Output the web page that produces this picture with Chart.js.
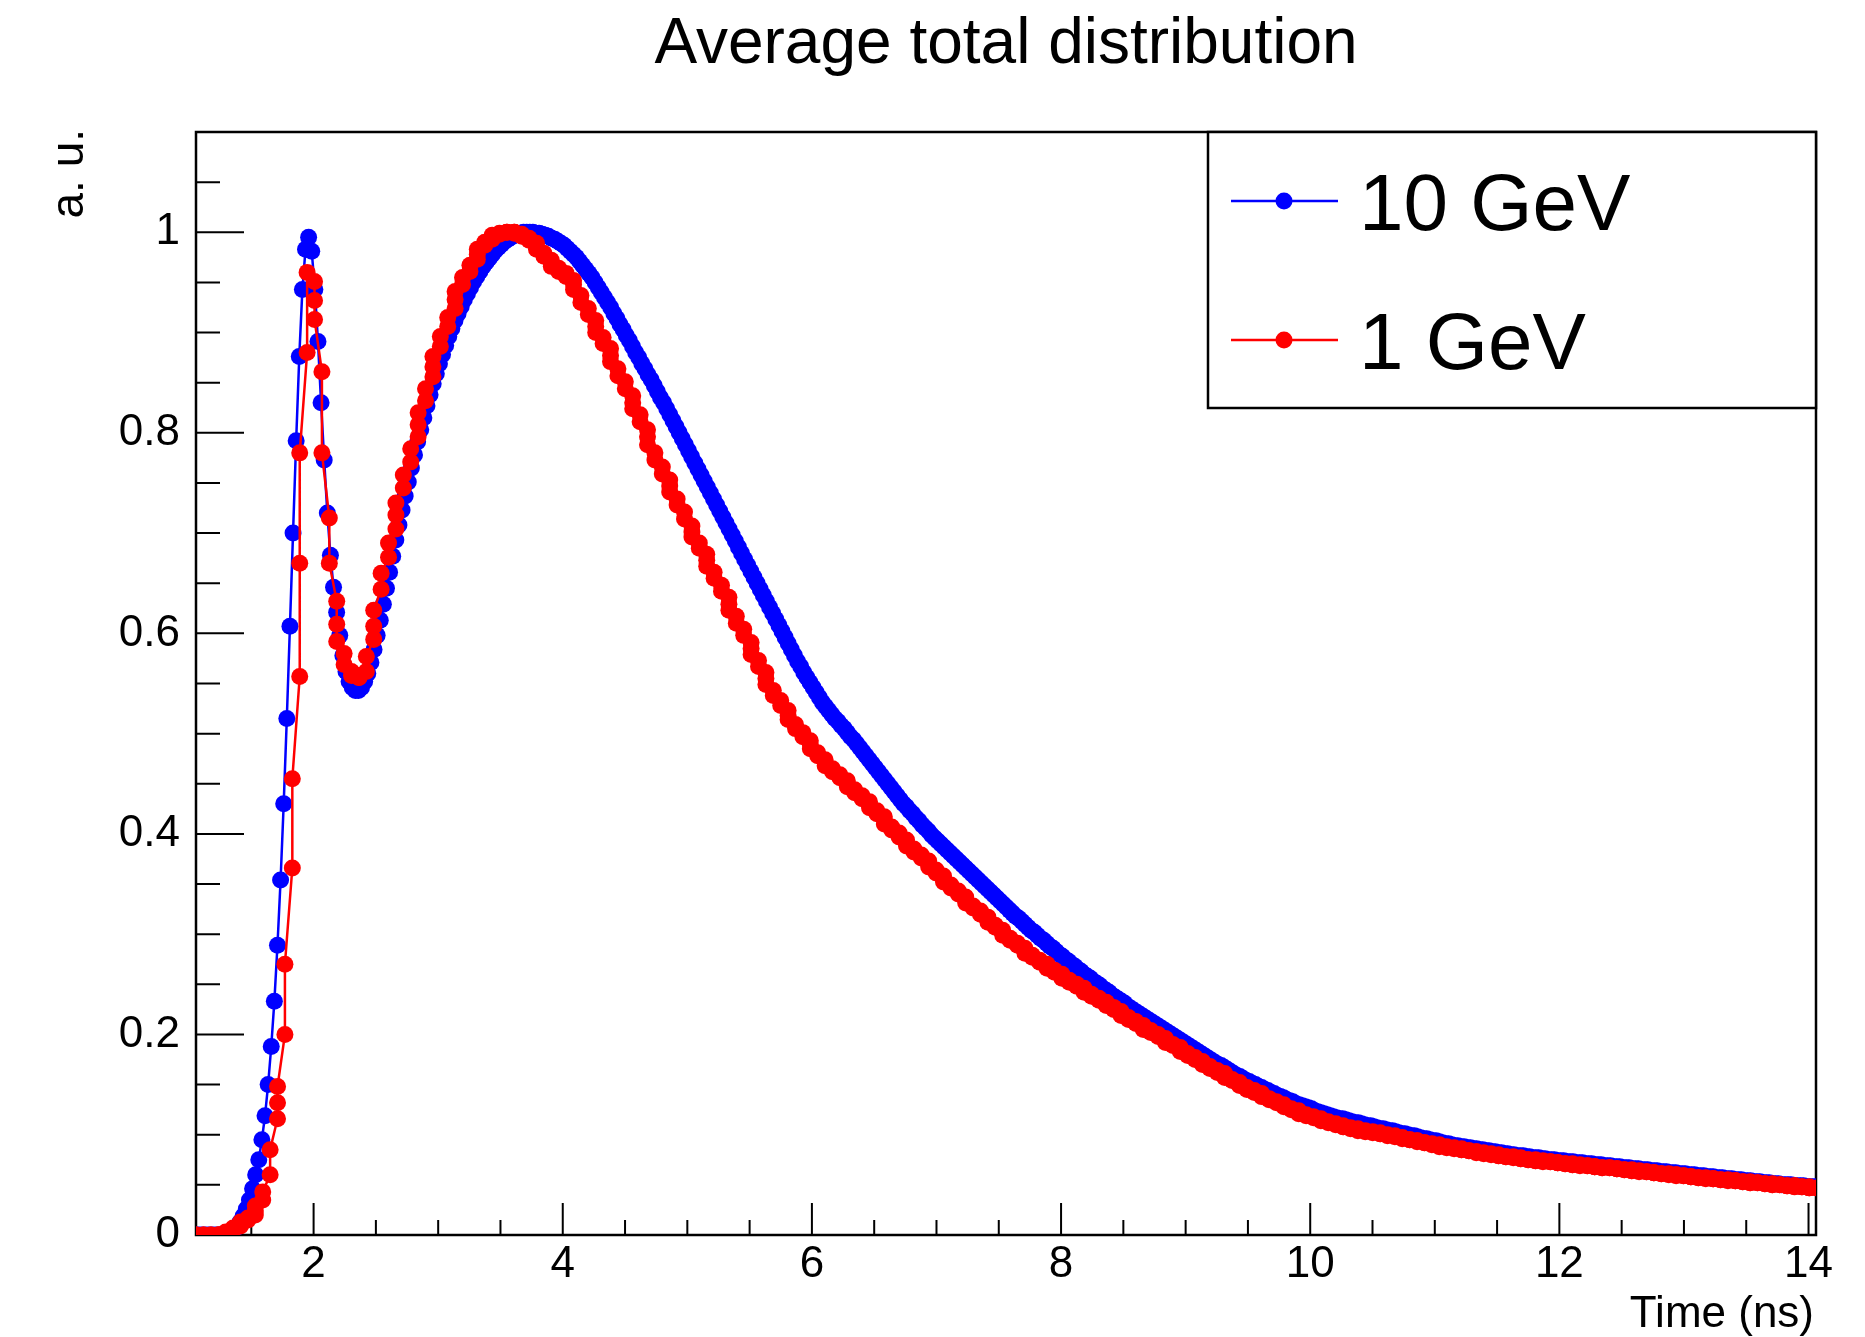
<!DOCTYPE html>
<html>
<head>
<meta charset="utf-8">
<title>Average total distribution</title>
<script src="https://cdn.jsdelivr.net/npm/chart.js@4.4.0/dist/chart.umd.min.js"></script>
<style>
  html, body { margin: 0; padding: 0; background: #fff; }
  canvas { display: block; }
</style>
</head>
<body>
<canvas id="chart" width="1865" height="1337"></canvas>
<script>
const chartTitle = "Average total distribution";
const xTitle = "Time (ns)";
const yTitle = "a. u.";
const seriesLabels = ["10 GeV", "1 GeV"];
const seriesColors = ["#0000ff", "#ff0000"];

const xTickValues = [2, 4, 6, 8, 10, 12, 14];
const xTickLabels = ["2", "4", "6", "8", "10", "12", "14"];
const yTickValues = [0, 0.2, 0.4, 0.6, 0.8, 1];
const yTickLabels = ["0", "0.2", "0.4", "0.6", "0.8", "1"];

// samples every 25 ps starting at 1.06 ns
const timeStart = 1.06;
const timeStep = 0.025;
// the 1 GeV graph keeps its times on a coarser grid, so its points bunch up
const oneGeVGridStart = 1.057;
const oneGeVGridStep = 0.0594;

const tenGeV = [
  0,0,0,0,0,0,0,0,0,0,
  0.001,0.003,0.005,0.008,0.013,0.019,0.026,0.035,0.046,0.060,
  0.075,0.095,0.119,0.150,0.188,0.233,0.289,0.354,0.430,0.515,
  0.607,0.700,0.792,0.876,0.943,0.983,0.995,0.981,0.943,0.891,
  0.830,0.773,0.720,0.678,0.646,0.621,0.598,0.578,0.562,0.552,
  0.546,0.543,0.543,0.546,0.552,0.560,0.571,0.584,0.598,0.613,
  0.629,0.645,0.661,0.677,0.693,0.708,0.723,0.737,0.751,0.765,
  0.778,0.791,0.803,0.815,0.827,0.838,0.849,0.859,0.869,0.878,
  0.887,0.896,0.904,0.912,0.919,0.926,0.933,0.939,0.945,0.951,
  0.956,0.961,0.966,0.970,0.974,0.978,0.982,0.985,0.988,0.991,
  0.993,0.995,0.997,0.998,0.999,1.000,1.000,1.000,1.000,0.999,
  0.999,0.998,0.997,0.996,0.994,0.993,0.991,0.989,0.987,0.984,
  0.981,0.978,0.975,0.971,0.967,0.963,0.959,0.955,0.950,0.945,
  0.940,0.935,0.930,0.925,0.919,0.914,0.908,0.903,0.897,0.892,
  0.886,0.880,0.875,0.869,0.864,0.858,0.853,0.847,0.841,0.835,
  0.830,0.824,0.818,0.812,0.806,0.800,0.794,0.788,0.782,0.776,
  0.770,0.764,0.758,0.752,0.746,0.740,0.734,0.728,0.722,0.716,
  0.710,0.704,0.698,0.692,0.686,0.680,0.674,0.668,0.662,0.656,
  0.650,0.644,0.638,0.632,0.626,0.620,0.614,0.608,0.602,0.596,
  0.590,0.584,0.578,0.572,0.567,0.561,0.556,0.551,0.546,0.541,
  0.536,0.531,0.527,0.523,0.519,0.515,0.512,0.508,0.505,0.501,
  0.497,0.494,0.490,0.486,0.482,0.478,0.474,0.470,0.466,0.462,
  0.458,0.454,0.450,0.446,0.442,0.438,0.434,0.430,0.427,0.423,
  0.420,0.416,0.413,0.409,0.406,0.403,0.399,0.396,0.393,0.390,
  0.387,0.384,0.381,0.378,0.375,0.372,0.369,0.366,0.363,0.360,
  0.357,0.354,0.351,0.348,0.345,0.342,0.339,0.336,0.333,0.330,
  0.327,0.324,0.321,0.318,0.316,0.313,0.310,0.307,0.304,0.302,
  0.299,0.296,0.294,0.291,0.288,0.286,0.283,0.280,0.278,0.275,
  0.273,0.270,0.268,0.265,0.263,0.260,0.258,0.256,0.253,0.251,
  0.249,0.246,0.244,0.242,0.239,0.237,0.235,0.233,0.231,0.228,
  0.226,0.224,0.222,0.220,0.218,0.216,0.214,0.212,0.210,0.208,
  0.206,0.204,0.202,0.200,0.198,0.196,0.194,0.192,0.190,0.188,
  0.186,0.184,0.182,0.180,0.178,0.176,0.174,0.172,0.170,0.169,
  0.167,0.165,0.163,0.161,0.159,0.158,0.156,0.154,0.153,0.151,
  0.150,0.148,0.147,0.145,0.144,0.142,0.141,0.139,0.138,0.137,
  0.135,0.134,0.133,0.131,0.130,0.129,0.128,0.127,0.126,0.124,
  0.123,0.122,0.121,0.120,0.119,0.118,0.117,0.116,0.116,0.115,
  0.114,0.113,0.112,0.112,0.111,0.110,0.109,0.109,0.108,0.107,
  0.106,0.106,0.105,0.104,0.104,0.103,0.102,0.101,0.101,0.100,
  0.099,0.099,0.098,0.097,0.096,0.096,0.095,0.094,0.094,0.093,
  0.092,0.091,0.091,0.090,0.089,0.089,0.088,0.088,0.087,0.087,
  0.086,0.086,0.085,0.085,0.084,0.084,0.083,0.083,0.082,0.082,
  0.081,0.081,0.080,0.080,0.079,0.079,0.079,0.078,0.078,0.077,
  0.077,0.077,0.076,0.076,0.075,0.075,0.075,0.074,0.074,0.074,
  0.073,0.073,0.073,0.072,0.072,0.072,0.071,0.071,0.071,0.070,
  0.070,0.070,0.069,0.069,0.069,0.068,0.068,0.068,0.067,0.067,
  0.067,0.066,0.066,0.066,0.065,0.065,0.065,0.064,0.064,0.064,
  0.063,0.063,0.063,0.062,0.062,0.062,0.061,0.061,0.061,0.060,
  0.060,0.060,0.059,0.059,0.059,0.058,0.058,0.058,0.057,0.057,
  0.057,0.056,0.056,0.056,0.055,0.055,0.055,0.054,0.054,0.054,
  0.053,0.053,0.053,0.052,0.052,0.052,0.051,0.051,0.051,0.050,
  0.050,0.050,0.050,0.049,0.049,0.049,0.049,0.048,0.048,0.048,
  0.048
];

const oneGeV = [
  0,0,0,0,0,0,0,0,0,0.001,
  0.003,0.005,0.007,0.009,0.011,0.013,0.015,0.017,0.020,0.024,
  0.029,0.035,0.043,0.060,0.085,0.116,0.132,0.148,0.200,0.270,
  0.366,0.455,0.557,0.670,0.780,0.880,0.960,0.951,0.932,0.913,
  0.861,0.780,0.715,0.670,0.632,0.609,0.592,0.580,0.569,0.562,
  0.558,0.556,0.556,0.558,0.562,0.577,0.594,0.607,0.623,0.644,
  0.660,0.676,0.690,0.704,0.718,0.730,0.745,0.758,0.771,0.784,
  0.796,0.808,0.820,0.832,0.844,0.856,0.866,0.876,0.886,0.896,
  0.906,0.915,0.924,0.933,0.941,0.948,0.955,0.961,0.967,0.973,
  0.978,0.983,0.987,0.990,0.993,0.995,0.997,0.998,0.999,1.000,
  1.000,1.000,1.000,0.999,0.998,0.996,0.994,0.992,0.989,0.986,
  0.983,0.979,0.976,0.972,0.969,0.966,0.964,0.961,0.959,0.956,
  0.952,0.948,0.943,0.937,0.930,0.924,0.918,0.912,0.906,0.900,
  0.895,0.889,0.884,0.877,0.871,0.864,0.857,0.851,0.844,0.837,
  0.830,0.824,0.818,0.811,0.803,0.796,0.788,0.780,0.773,0.766,
  0.759,0.753,0.747,0.741,0.734,0.728,0.721,0.714,0.707,0.701,
  0.696,0.690,0.685,0.679,0.673,0.667,0.661,0.655,0.648,0.642,
  0.636,0.629,0.623,0.617,0.610,0.604,0.598,0.591,0.585,0.579,
  0.573,0.567,0.561,0.555,0.549,0.543,0.538,0.533,0.528,0.523,
  0.518,0.514,0.509,0.505,0.501,0.497,0.493,0.489,0.485,0.481,
  0.478,0.474,0.471,0.468,0.465,0.462,0.459,0.456,0.453,0.450,
  0.447,0.444,0.441,0.438,0.435,0.432,0.429,0.426,0.423,0.420,
  0.417,0.414,0.410,0.407,0.404,0.401,0.397,0.394,0.391,0.388,
  0.385,0.382,0.379,0.376,0.373,0.370,0.367,0.364,0.361,0.358,
  0.355,0.352,0.349,0.346,0.343,0.340,0.337,0.334,0.331,0.328,
  0.326,0.323,0.320,0.317,0.315,0.312,0.309,0.307,0.304,0.301,
  0.299,0.296,0.294,0.291,0.289,0.286,0.284,0.281,0.279,0.277,
  0.274,0.272,0.270,0.268,0.266,0.264,0.262,0.260,0.258,0.256,
  0.254,0.252,0.250,0.248,0.246,0.244,0.242,0.240,0.238,0.236,
  0.234,0.232,0.230,0.229,0.227,0.225,0.223,0.221,0.219,0.217,
  0.215,0.213,0.211,0.209,0.207,0.205,0.204,0.202,0.200,0.198,
  0.196,0.194,0.192,0.190,0.189,0.187,0.185,0.183,0.181,0.179,
  0.177,0.175,0.173,0.172,0.170,0.168,0.166,0.164,0.162,0.161,
  0.159,0.157,0.155,0.154,0.152,0.150,0.149,0.147,0.145,0.144,
  0.142,0.141,0.139,0.138,0.136,0.135,0.133,0.132,0.130,0.129,
  0.128,0.126,0.125,0.124,0.122,0.121,0.120,0.119,0.118,0.117,
  0.116,0.115,0.114,0.113,0.112,0.111,0.110,0.109,0.108,0.108,
  0.107,0.106,0.106,0.105,0.104,0.104,0.103,0.103,0.102,0.102,
  0.101,0.101,0.100,0.099,0.099,0.098,0.097,0.097,0.096,0.095,
  0.095,0.094,0.094,0.093,0.092,0.092,0.091,0.090,0.090,0.089,
  0.088,0.088,0.087,0.087,0.086,0.086,0.085,0.085,0.084,0.084,
  0.083,0.083,0.082,0.082,0.081,0.081,0.080,0.080,0.079,0.079,
  0.078,0.078,0.078,0.077,0.077,0.076,0.076,0.075,0.075,0.075,
  0.074,0.074,0.074,0.073,0.073,0.073,0.072,0.072,0.072,0.071,
  0.071,0.071,0.070,0.070,0.070,0.069,0.069,0.069,0.068,0.068,
  0.068,0.067,0.067,0.067,0.067,0.066,0.066,0.066,0.065,0.065,
  0.065,0.064,0.064,0.064,0.063,0.063,0.063,0.062,0.062,0.062,
  0.061,0.061,0.061,0.060,0.060,0.060,0.059,0.059,0.059,0.058,
  0.058,0.058,0.057,0.057,0.057,0.056,0.056,0.056,0.056,0.055,
  0.055,0.055,0.054,0.054,0.054,0.054,0.053,0.053,0.053,0.052,
  0.052,0.052,0.052,0.051,0.051,0.051,0.050,0.050,0.050,0.050,
  0.049,0.049,0.049,0.049,0.048,0.048,0.048,0.048,0.047,0.047,
  0.047
];

const sampleTimes = tenGeV.map((_, i) => timeStart + i * timeStep);
const snapToGrid = (t) =>
  oneGeVGridStart + Math.round((t - oneGeVGridStart) / oneGeVGridStep) * oneGeVGridStep;

const tenGeVPoints = tenGeV.map((v, i) => ({ x: sampleTimes[i], y: v }));
const oneGeVPoints = oneGeV.map((v, i) => ({ x: snapToGrid(sampleTimes[i]), y: v }));

const FONT = "'Liberation Sans', Arial, Helvetica, sans-serif";
Chart.defaults.font.family = FONT;
Chart.defaults.color = "#000";

// ROOT-like frame: ticks pointing inwards, titles and a boxed legend
const rootFrame = {
  id: "rootFrame",
  beforeDatasetsDraw(chart) {
    const { ctx, chartArea: a, scales: { x, y } } = chart;
    ctx.save();
    ctx.strokeStyle = "#000";
    ctx.lineWidth = 2;
    ctx.beginPath();
    for (let v = 1.5; v <= 14.001; v += 0.5) {
      const px = x.getPixelForValue(v);
      const len = xTickValues.includes(v) ? 32 : 15;
      ctx.moveTo(px, a.bottom);
      ctx.lineTo(px, a.bottom - len);
    }
    for (let i = 1; i <= 21; i++) {
      const py = y.getPixelForValue(i * 0.05);
      const len = i % 4 === 0 ? 48 : 24;
      ctx.moveTo(a.left, py);
      ctx.lineTo(a.left + len, py);
    }
    ctx.stroke();
    ctx.lineWidth = 2.5;
    ctx.strokeRect(a.left, a.top, a.right - a.left, a.bottom - a.top);
    ctx.restore();
  },
  afterDraw(chart) {
    const { ctx, chartArea: a } = chart;
    ctx.save();
    ctx.fillStyle = "#000";

    ctx.font = `64px ${FONT}`;
    ctx.textAlign = "center";
    ctx.textBaseline = "alphabetic";
    ctx.fillText(chartTitle, (a.left + a.right) / 2, 63);

    ctx.font = `44px ${FONT}`;
    ctx.textAlign = "right";
    ctx.fillText(xTitle, a.right - 2, 1327);

    ctx.save();
    ctx.translate(83, 129);
    ctx.rotate(-Math.PI / 2);
    ctx.font = `46px ${FONT}`;
    ctx.textAlign = "right";
    ctx.fillText(yTitle, 0, 0);
    ctx.restore();

    // legend box
    const box = { left: 1208, top: a.top, right: a.right, bottom: 408 };
    ctx.fillStyle = "#fff";
    ctx.fillRect(box.left, box.top, box.right - box.left, box.bottom - box.top);
    ctx.strokeStyle = "#000";
    ctx.lineWidth = 2.5;
    ctx.strokeRect(box.left, box.top, box.right - box.left, box.bottom - box.top);

    const rows = [201, 340];
    chart.data.datasets.forEach((ds, i) => {
      const cy = rows[i];
      ctx.strokeStyle = ds.borderColor;
      ctx.lineWidth = 2.5;
      ctx.beginPath();
      ctx.moveTo(1231, cy);
      ctx.lineTo(1338, cy);
      ctx.stroke();
      ctx.fillStyle = ds.backgroundColor;
      ctx.beginPath();
      ctx.arc(1284, cy, 8.5, 0, Math.PI * 2);
      ctx.fill();
      ctx.fillStyle = "#000";
      ctx.font = `80px ${FONT}`;
      ctx.textAlign = "left";
      ctx.textBaseline = "alphabetic";
      ctx.fillText(ds.label, 1359, cy + 29);
    });
    ctx.restore();
  },
};

new Chart(document.getElementById("chart"), {
  type: "line",
  data: {
    datasets: [
      {
        label: seriesLabels[0],
        data: tenGeVPoints,
        borderColor: seriesColors[0],
        backgroundColor: seriesColors[0],
        order: 1,
      },
      {
        label: seriesLabels[1],
        data: oneGeVPoints,
        borderColor: seriesColors[1],
        backgroundColor: seriesColors[1],
        order: 0,
      },
    ],
  },
  options: {
    responsive: false,
    devicePixelRatio: 1,
    animation: false,
    events: [],
    layout: { padding: { left: 0, top: 132, right: 49, bottom: 0 } },
    elements: {
      line: { borderWidth: 2.5, tension: 0 },
      point: { radius: 8.5, borderWidth: 0, hoverRadius: 8.5 },
    },
    scales: {
      x: {
        type: "linear",
        min: 1.056,
        max: 14.06,
        grid: { display: false, drawTicks: false },
        border: { display: false },
        afterBuildTicks: (s) => { s.ticks = xTickValues.map((v) => ({ value: v })); },
        afterFit: (s) => { s.height = 102; },
        ticks: {
          autoSkip: false,
          maxRotation: 0,
          padding: 3,
          font: { size: 44 },
          callback: (v, i) => xTickLabels[i],
        },
      },
      y: {
        type: "linear",
        min: 0,
        max: 1.1,
        grid: { display: false, drawTicks: false },
        border: { display: false },
        afterBuildTicks: (s) => { s.ticks = yTickValues.map((v) => ({ value: v })); },
        afterFit: (s) => { s.width = 196; },
        ticks: {
          autoSkip: false,
          padding: 16,
          font: { size: 44 },
          callback: (v, i) => yTickLabels[i],
        },
      },
    },
    plugins: {
      legend: { display: false },
      title: { display: false },
      tooltip: { enabled: false },
    },
  },
  plugins: [rootFrame],
});
</script>
</body>
</html>
